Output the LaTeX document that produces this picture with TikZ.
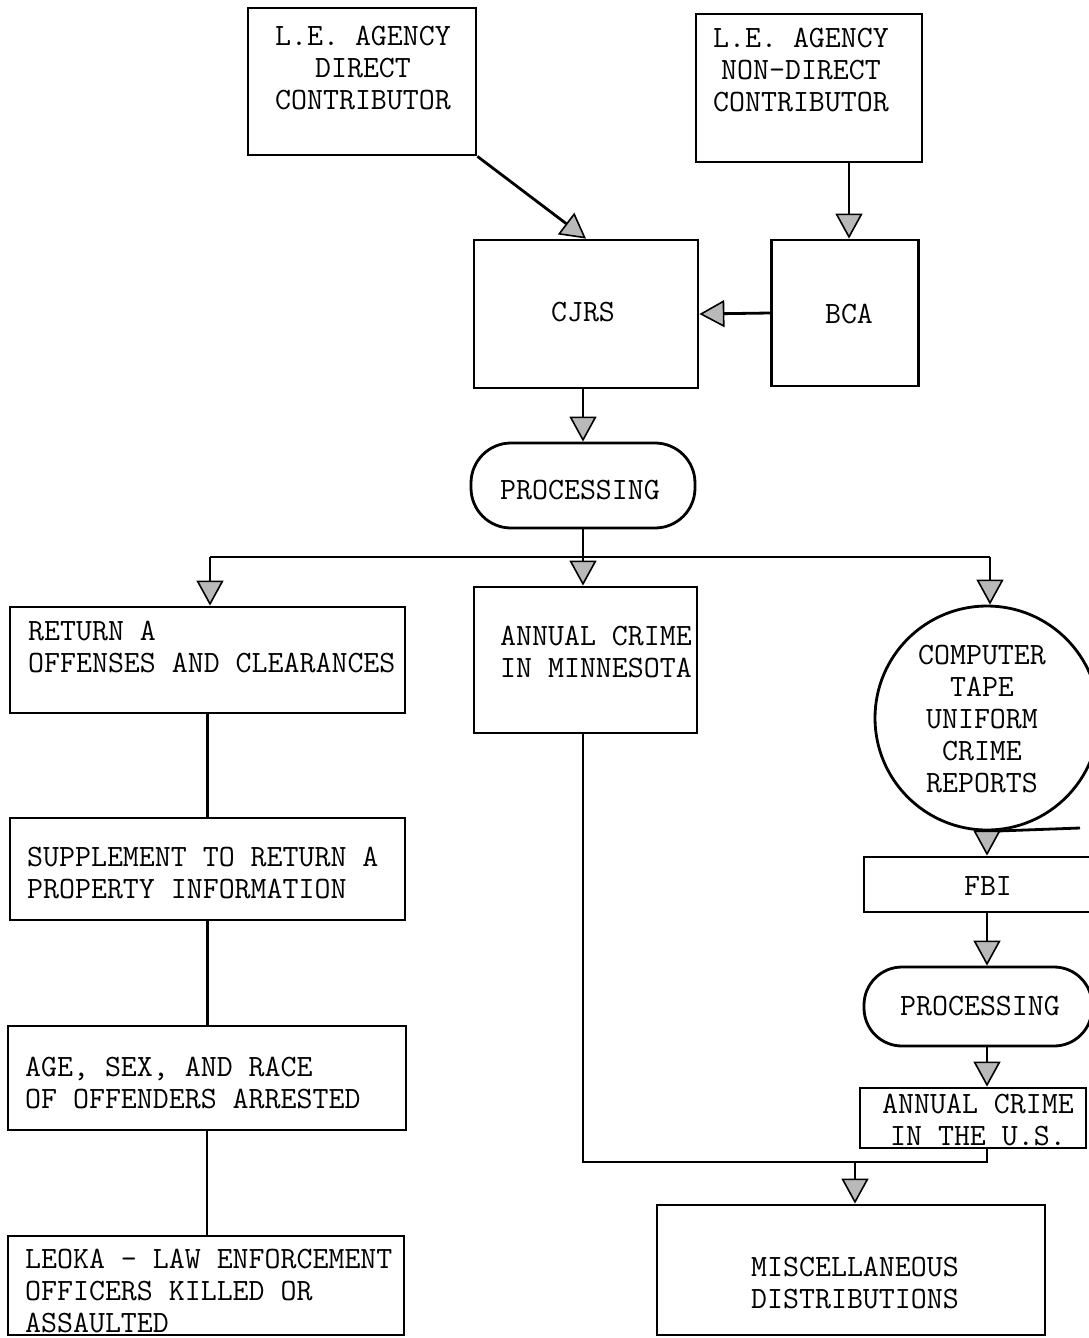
\documentclass[tikz,border=0pt]{standalone}
\usetikzlibrary{arrows.meta}

\tikzset{
  box/.style={draw,line width=2.8pt,inner sep=0pt},
  txt/.style={inner sep=0pt,font=\ttfamily\fontsize{31}{32}\selectfont},
  flow/.style={line width=2.8pt,-{Triangle[length=25pt,width=27pt,fill=gray!55,line width=1.6pt]}},
  link/.style={line width=2.8pt}
}

\begin{document}
\begin{tikzpicture}[x=1pt,y=-1pt]
  \useasboundingbox (0,0) rectangle (1088,1338);
  % sources
  \node[box,minimum width=228pt,minimum height=147pt](direct) at (362,81.5){};
  \node[txt,align=center](directtxt) at (363,68){L.E. AGENCY\\DIRECT\\CONTRIBUTOR};
  \node[box,minimum width=226pt,minimum height=148pt](nondirect) at (809,88){};
  \node[txt,align=center](nondirecttxt) at (801,70){L.E. AGENCY\\NON-DIRECT\\CONTRIBUTOR};
  \node[box,minimum width=224pt,minimum height=148pt](cjrs) at (586,314){};
  \node[txt](cjrstxt) at (583,312){CJRS};
  \node[box,minimum width=147pt,minimum height=146pt](bca) at (845,313){};
  \node[txt](bcatxt) at (849,314){BCA};
  \node[box,rounded corners=40pt,minimum width=224pt,minimum height=85pt](proc) at (583,485.5){};
  \node[txt](proctxt) at (580,490){PROCESSING};
  % left column
  \node[box,minimum width=395pt,minimum height=106pt](retA) at (207.5,660){};
  \node[txt,align=left,anchor=west](retAtxt) at (28,646.5){RETURN A\\OFFENSES AND CLEARANCES};
  \node[box,minimum width=395pt,minimum height=102pt](supp) at (207.5,869){};
  \node[txt,align=left,anchor=west](supptxt) at (27,872.5){SUPPLEMENT TO RETURN A\\PROPERTY INFORMATION};
  \node[box,minimum width=398pt,minimum height=104pt](age) at (207,1078){};
  \node[txt,align=left,anchor=west](agetxt) at (25,1083){AGE, SEX, AND RACE\\OF OFFENDERS ARRESTED};
  \node[box,minimum width=396pt,minimum height=99pt](leoka) at (206,1285.5){};
  \node[txt,align=left,anchor=west](leokatxt) at (25,1291){LEOKA - LAW ENFORCEMENT\\OFFICERS KILLED OR\\ASSAULTED};
  % middle column
  \node[box,minimum width=223pt,minimum height=146pt](mn) at (585.5,660){};
  \node[txt,align=left,anchor=west](mntxt) at (500,652){ANNUAL CRIME\\IN MINNESOTA};
  \node[box,minimum width=388pt,minimum height=130pt](misc) at (851,1270){};
  \node[txt,align=center](misctxt) at (855,1282.5){MISCELLANEOUS\\DISTRIBUTIONS};
  % right column
  \node[box,circle,minimum size=224pt](tape) at (987,718){};
  \node[txt,align=center](tapetxt) at (982,719){COMPUTER\\TAPE\\UNIFORM\\CRIME\\REPORTS};
  \node[box,minimum width=226pt,minimum height=55pt](fbi) at (977,884.5){};
  \node[txt](fbitxt) at (988,886){FBI};
  \node[box,rounded corners=38pt,minimum width=228pt,minimum height=79pt](proc2) at (978,1006.5){};
  \node[txt](proc2txt) at (980,1006){PROCESSING};
  \node[box,minimum width=226pt,minimum height=60pt](us) at (973,1118){};
  \node[txt,align=center](ustxt) at (978,1120){ANNUAL CRIME\\IN THE U.S.};

  \coordinate (split) at (583,557);
  \coordinate (sL) at (210,557);
  \coordinate (sR) at (990,557);
  \coordinate (join) at (855,1162);
  \coordinate (stray) at (1080,828);
  \coordinate (bcain) at (849,0);

  \draw[flow] (direct.south east) -- (cjrs.north);
  \draw[flow] (bcain |- nondirect.south) -- (bcain |- bca.north);
  \draw[flow] (bca.west) -- (cjrs.east);
  \draw[flow] (proc.north |- cjrs.south) -- (proc.north);
  \draw[link] (proc.south) -- (split);
  \draw[link] (sL) -- (sR);
  \draw[flow] (sL) -- (sL |- retA.north);
  \draw[flow] (split) -- (split |- mn.north);
  \draw[flow] (sR) -- (sR |- tape.north);
  \draw[link] (retA.south) -- (supp.north);
  \draw[link] (supp.south) -- (supp.south |- age.north);
  \draw[link] (age.south) -- (age.south |- leoka.north);
  \draw[link] (tape.south) -- (stray);
  \draw[flow] (tape.south) -- (tape.south |- fbi.north);
  \draw[flow] (tape.south |- fbi.south) -- (tape.south |- proc2.north);
  \draw[flow] (tape.south |- proc2.south) -- (tape.south |- us.north);
  \draw[link] (split |- mn.south) |- (join);
  \draw[link] (tape.south |- us.south) |- (join);
  \draw[flow] (join) -- (join |- misc.north);
\end{tikzpicture}
\end{document}
